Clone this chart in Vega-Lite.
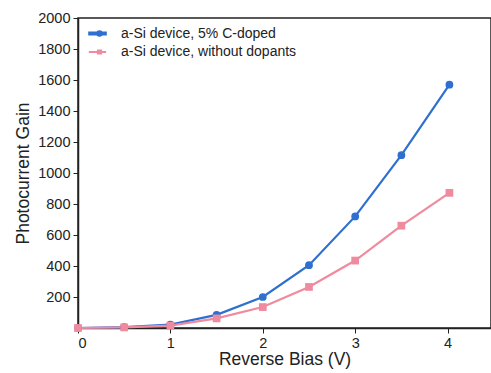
{
  "$schema": "https://vega.github.io/schema/vega-lite/v6.json",
  "autosize": "none",
  "width": 413,
  "height": 310,
  "padding": {"left": 78, "top": 18, "right": 0, "bottom": 45},
  "background": "white",
  "config": {
    "font": "Liberation Sans",
    "view": {"stroke": "#222", "strokeWidth": 1.5}
  },
  "data": {
    "values": [
      {"bias": 0, "gain": 0, "series": "a-Si device, 5% C-doped"},
      {"bias": 0.5, "gain": 6, "series": "a-Si device, 5% C-doped"},
      {"bias": 1, "gain": 22, "series": "a-Si device, 5% C-doped"},
      {"bias": 1.5, "gain": 85, "series": "a-Si device, 5% C-doped"},
      {"bias": 2, "gain": 200, "series": "a-Si device, 5% C-doped"},
      {"bias": 2.5, "gain": 405, "series": "a-Si device, 5% C-doped"},
      {"bias": 3, "gain": 720, "series": "a-Si device, 5% C-doped"},
      {"bias": 3.5, "gain": 1115, "series": "a-Si device, 5% C-doped"},
      {"bias": 4.02, "gain": 1570, "series": "a-Si device, 5% C-doped"},
      {"bias": 0, "gain": 0, "series": "a-Si device, without dopants"},
      {"bias": 0.5, "gain": 4, "series": "a-Si device, without dopants"},
      {"bias": 1, "gain": 15, "series": "a-Si device, without dopants"},
      {"bias": 1.5, "gain": 62, "series": "a-Si device, without dopants"},
      {"bias": 2, "gain": 135, "series": "a-Si device, without dopants"},
      {"bias": 2.5, "gain": 265, "series": "a-Si device, without dopants"},
      {"bias": 3, "gain": 435, "series": "a-Si device, without dopants"},
      {"bias": 3.5, "gain": 660, "series": "a-Si device, without dopants"},
      {"bias": 4.02, "gain": 872, "series": "a-Si device, without dopants"}
    ]
  },
  "encoding": {
    "x": {
      "field": "bias", "type": "quantitative",
      "scale": {"domain": [0, 4.47], "nice": false, "zero": false},
      "axis": {
        "title": "Reverse Bias (V)", "values": [0, 1, 2, 3, 4], "format": "d",
        "grid": false, "domainColor": "#222", "domainWidth": 1.5, "tickColor": "#222",
        "tickSize": 5, "labelFontSize": 14.5, "labelColor": "#222", "titleFontSize": 17.5,
        "titleFontWeight": "normal", "titleColor": "#222", "titlePadding": 1, "labelPadding": 3
      }
    },
    "y": {
      "field": "gain", "type": "quantitative",
      "scale": {"domain": [0, 2000], "nice": false},
      "axis": {
        "title": "Photocurrent Gain", "format": "d",
        "values": [200, 400, 600, 800, 1000, 1200, 1400, 1600, 1800, 2000],
        "grid": false, "domainColor": "#222", "domainWidth": 1.5, "tickColor": "#222",
        "tickSize": 5, "labelFontSize": 14.5, "labelColor": "#222", "titleFontSize": 17.5,
        "titleFontWeight": "normal", "titleColor": "#222", "titlePadding": 5, "labelPadding": 3
      }
    },
    "color": {
      "field": "series", "type": "nominal",
      "scale": {"domain": ["a-Si device, 5% C-doped", "a-Si device, without dopants"], "range": ["#2f6fd0", "#f08a9f"]},
      "legend": {
        "title": null, "orient": "none", "legendX": 10, "legendY": 6,
        "labelFontSize": 14, "labelColor": "#222", "labelLimit": 0, "symbolSize": 256,
        "symbolOpacity": 1, "labelOffset": 14, "rowPadding": 2
      }
    }
  },
  "layer": [
    {
      "mark": {"type": "line", "strokeWidth": 2.2},
      "encoding": {
        "strokeWidth": {
          "field": "series", "type": "nominal",
          "scale": {"domain": ["a-Si device, 5% C-doped", "a-Si device, without dopants"], "range": [2.6, 1.3]},
          "legend": null
        }
      }
    },
    {
      "mark": {"type": "point", "filled": true, "size": 60, "opacity": 1},
      "encoding": {
        "shape": {
          "condition": {"test": "datum.series === 'a-Si device, without dopants'", "value": "square"},
          "value": "circle"
        }
      }
    },
    {
      "mark": {"type": "point", "filled": true, "opacity": 0},
      "encoding": {
        "shape": {
          "field": "series", "type": "nominal",
          "scale": {
            "domain": ["a-Si device, 5% C-doped", "a-Si device, without dopants"],
            "range": [
              "M-1,-0.08H1V0.08H-1Z M0.5,0A0.25,0.25,0,1,1,0,0A0.25,0.25,0,1,1,0.5,0Z",
              "M-1,-0.04H1V0.04H-1Z M0.01,-0.24H0.49V0.24H0.01Z"
            ]
          },
          "legend": {
            "title": null, "orient": "none", "legendX": 10, "legendY": 6,
            "labelFontSize": 14, "labelColor": "#222", "labelLimit": 0, "symbolSize": 256,
            "symbolOpacity": 1, "labelOffset": 14, "rowPadding": 2
          }
        }
      }
    }
  ]
}
